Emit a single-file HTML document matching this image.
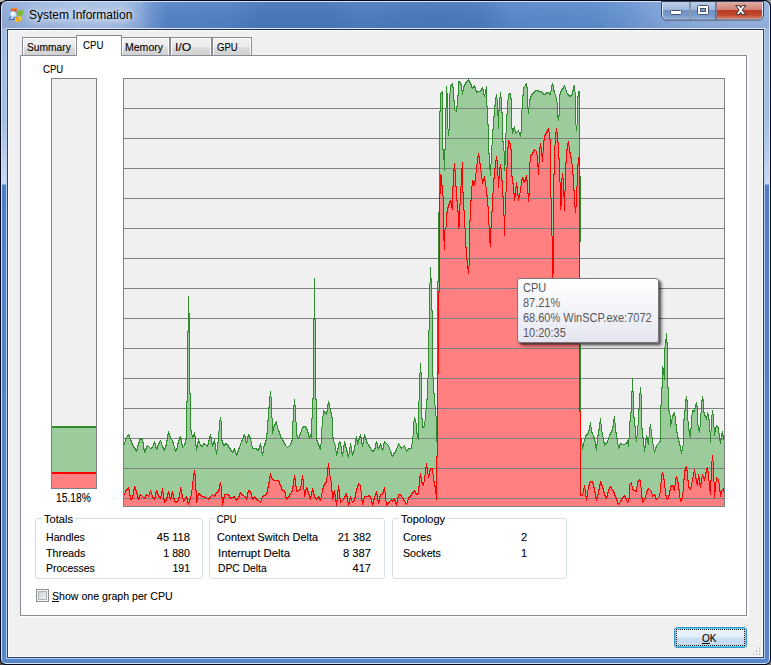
<!DOCTYPE html>
<html>
<head>
<meta charset="utf-8">
<title>System Information</title>
<style>
html,body{margin:0;padding:0;}
body{width:771px;height:665px;overflow:hidden;background:#0b101c;position:relative;font-family:"Liberation Sans",sans-serif;font-size:11px;color:#000;}
div,span{box-sizing:border-box;}
.abs{position:absolute;}
#win{position:absolute;left:0;top:0;width:771px;height:665px;border-radius:7px 7px 6px 6px;background:#05091a;overflow:hidden;}
#glass{position:absolute;left:1px;top:1px;width:769px;height:663px;border-radius:6px 6px 5px 5px;background:#d3e2f8;}
#glass2{position:absolute;left:2px;top:2px;width:767px;height:661px;border-radius:5px 5px 4px 4px;background:linear-gradient(180deg,#9fb9e1 0,#a5bee4 118px,#c9d9f1 182px,#4f80c6 183px,#5384c8 400px,#5787ca 661px);}
#tbar{position:absolute;left:2px;top:2px;width:767px;height:26px;border-radius:5px 5px 0 0;
 background:linear-gradient(90deg,#90aad4 0px,#9ab4dd 30px,#a8c0e4 75px,#a4bde3 120px,#8aa9d9 138px,#6a93cf 150px,#5683c6 165px,#5280c4 228px,#4a77ba 258px,#4a77ba 330px,#4f7dbf 360px,#4c79bc 400px,#4b78bb 440px,#4d7abd 478px,#5a88c9 510px,#5c8aca 590px,#6a95d1 625px,#80a3d7 660px,#90afdc 705px,#95b3de 767px);}
#tbar2{position:absolute;left:2px;top:2px;width:767px;height:26px;border-radius:5px 5px 0 0;
 background:linear-gradient(180deg,rgba(255,255,255,.06) 0,rgba(255,255,255,0) 50%,rgba(0,0,40,.04) 100%);}
#edgeL{position:absolute;left:6px;top:28px;width:759px;height:631px;background:#b4cbee;border-top:1px solid #dfe8f7;}
#edgeD{position:absolute;left:7px;top:29px;width:757px;height:629px;background:#2c4568;border-top:1px solid #1f2f4c;}
#client{position:absolute;left:8px;top:30px;width:755px;height:627px;background:#f0f0f0;border:1px solid #fbfbfb;}
#title{position:absolute;left:29px;top:8px;font-size:12px;line-height:14px;white-space:nowrap;color:#000;
 text-shadow:0 0 6px rgba(255,255,255,.85),0 0 10px rgba(255,255,255,.75),0 0 14px rgba(255,255,255,.5);}
.t{position:absolute;white-space:nowrap;line-height:13px;font-size:11px;}
.r{text-align:right;}
.t,.gbl{margin-top:1px;-webkit-text-stroke:0.1px #000;}
/* tabs */
.tab{position:absolute;top:37px;height:19px;border:1px solid #898c95;border-bottom:none;background:linear-gradient(180deg,#f2f2f2 0,#ebebeb 48%,#dddddd 52%,#cfcfcf 100%);box-shadow:inset 1px 1px 0 #fbfbfb,inset -1px 0 0 #fbfbfb;}
#pane{position:absolute;left:20px;top:55px;width:727px;height:561px;border:1px solid #898c95;background:#fff;}
#seltab{position:absolute;left:76px;top:35px;width:46px;height:21px;border:1px solid #898c95;border-bottom:none;background:#fff;}
.gb{position:absolute;border:1px solid #d5dfe5;border-radius:3px;}
.gbl{position:absolute;background:#fff;padding:0 2px;white-space:nowrap;line-height:13px;}
#tip{position:absolute;left:517px;top:278px;width:142px;height:65px;border:1px solid #767676;border-radius:3px;background:linear-gradient(180deg,#ffffff 0,#f4f5fa 45%,#e4e5f0 100%);box-shadow:2px 2px 2px rgba(0,0,0,.5),4px 4px 3px rgba(0,0,0,.22);color:#575757;font-size:12px;}
#tip div{position:absolute;left:5px;white-space:nowrap;line-height:14px;}
#ok{position:absolute;left:674px;top:627px;width:73px;height:21px;border:1px solid #3a94cf;border-radius:3px;background:linear-gradient(180deg,#eef5fc 0,#e3eefa 48%,#cde0f3 52%,#bed7ee 100%);box-shadow:inset 0 0 0 1px #48d4f8;}
#okf{position:absolute;left:1px;top:1px;right:1px;bottom:1px;border:1px dotted #2a1208;}
#tSummary{transform:scaleX(0.930);transform-origin:0 0;}
#tCPUtab{transform:scaleX(0.879);transform-origin:0 0;}
#tMemory{transform:scaleX(0.957);transform-origin:0 0;}
#tIO{transform:scaleX(1.102);transform-origin:0 0;}
#tGPU{transform:scaleX(0.870);transform-origin:0 0;}
#tCPUlbl{transform:scaleX(0.866);transform-origin:0 0;}
#tPct{transform:scaleX(0.86);transform-origin:0 0;}
#gTotals{transform:scaleX(1.007);transform-origin:0 0;}
#gCPU{transform:scaleX(0.849);transform-origin:0 0;}
#gTopo{transform:scaleX(1.002);transform-origin:0 0;}
#tHandles{transform:scaleX(0.963);transform-origin:0 0;}
#tThreads{transform:scaleX(0.978);transform-origin:0 0;}
#tProcesses{transform:scaleX(0.951);transform-origin:0 0;}
#tCtx{transform:scaleX(0.989);transform-origin:0 0;}
#tInt{transform:scaleX(1.033);transform-origin:0 0;}
#tDpc{transform:scaleX(0.937);transform-origin:0 0;}
#tCores{transform:scaleX(0.976);transform-origin:0 0;}
#tSockets{transform:scaleX(0.969);transform-origin:0 0;}
#tShow{transform:scaleX(0.962);transform-origin:0 0;}
#tOK{transform:scaleX(0.912);transform-origin:0 0;}
#vHandles{transform:scaleX(1.015);transform-origin:100% 0;}
#vThreads{transform:scaleX(0.971);transform-origin:100% 0;}
#vProcesses{transform:scaleX(0.957);transform-origin:100% 0;}
#vCtx{transform:scaleX(0.988);transform-origin:100% 0;}
#vInt{transform:scaleX(1.015);transform-origin:100% 0;}
#vDpc{transform:scaleX(1.005);transform-origin:100% 0;}
#tip div{transform:scaleX(0.915);transform-origin:0 0;}
</style>
</head>
<body>
<div class="abs" style="left:0;top:0;width:5px;height:2px;background:#b4b4b4"></div><div class="abs" style="left:766px;top:0;width:5px;height:4px;background:linear-gradient(225deg,#a8a8a8 0,#8a8a8a 40%,#1a1a1a 100%)"></div><div class="abs" style="left:0;top:661px;width:4px;height:4px;background:#4a4a4a"></div><div class="abs" style="left:767px;top:661px;width:4px;height:4px;background:#6e6e6e"></div>
<div id="win">
<div id="glass"></div><div id="glass2"></div><div id="tbar"></div><div id="tbar2"></div>
<div id="edgeL"></div><div id="edgeD"></div>
<div id="client"></div>
<!-- caption buttons -->
<svg class="abs" style="left:655px;top:0" width="116" height="24" viewBox="655 0 116 24">
<defs>
<linearGradient id="gb" x1="0" y1="0" x2="0" y2="1"><stop offset="0" stop-color="#bccde7"/><stop offset=".45" stop-color="#9fb7dc"/><stop offset=".5" stop-color="#7193c7"/><stop offset=".8" stop-color="#7a9bcd"/><stop offset="1" stop-color="#93b0da"/></linearGradient>
<linearGradient id="gc" x1="0" y1="0" x2="0" y2="1"><stop offset="0" stop-color="#e2ada6"/><stop offset=".45" stop-color="#d08376"/><stop offset=".5" stop-color="#bb3a23"/><stop offset=".78" stop-color="#c14b33"/><stop offset="1" stop-color="#d68e79"/></linearGradient>
</defs>
<path d="M661.5,1.5 H763.5 V15 a5,5 0 0 1 -5,5 H666.5 a5,5 0 0 1 -5,-5 Z" fill="#dbe6f6" stroke="#33445f" stroke-width="1"/>
<path d="M663,2 H689 V19 H667 a4,4 0 0 1 -4,-4 Z" fill="url(#gb)"/>
<rect x="691" y="2" width="25" height="17" fill="url(#gb)"/>
<path d="M717,2 H762 V15 a4,4 0 0 1 -4,4 H717 Z" fill="url(#gc)"/>
<rect x="689.5" y="1.5" width="1" height="18" fill="#3a4a66"/>
<rect x="715.5" y="1.5" width="1" height="18" fill="#4a2a2c"/>
<!-- min -->
<rect x="670.5" y="10.5" width="11" height="4" rx="1" fill="#fff" stroke="#46536a" stroke-width="1"/>
<!-- max -->
<rect x="697.5" y="5.5" width="11" height="9" rx="1" fill="#fff" stroke="#46536a" stroke-width="1"/>
<rect x="700.5" y="8.5" width="5" height="3" fill="#7d9fd3" stroke="#46536a" stroke-width="1"/>
<!-- close X -->
<path d="M735.7,5.5 h3.5 l1.5,1.9 l1.5,-1.9 h3.5 l-3.4,4.5 l3.4,4.5 h-3.5 l-1.5,-1.9 l-1.5,1.9 h-3.5 l3.4,-4.5 Z" fill="#fff" stroke="#4c3a3c" stroke-width="1.1" stroke-linejoin="round"/>
</svg>
<!-- app icon -->
<svg class="abs" style="left:7px;top:6px" width="18" height="18" viewBox="7 6 18 18">
<path d="M11.2,9.4 C12.6,8.1 15,7.7 17,8.5 L16.4,12.6 L11,12.4 Z" fill="#ea4d18"/>
<path d="M12,8.8 C13.4,8 15.4,7.9 16.9,8.5 L16.7,9.8 C15,9.2 13.4,9.4 12,10 Z" fill="#f58a2c"/>
<path d="M17.5,10.2 C19,11.1 21.6,11 23.7,9.9 L22.5,15.3 C20.6,16.3 18.6,16.2 16.9,15.4 Z" fill="#7db82b"/>
<path d="M15.3,16.4 C17,17.2 19.6,17.1 21.7,16 L20.5,21.5 C18.4,22.4 16.3,22.2 14.6,21.2 Z" fill="#f9c81a"/>
<path d="M15.6,16.6 L19.6,21.4" stroke="#e8902a" stroke-width="1.6"/>
<path d="M9.6,16.8 C11.2,16 13.4,16.2 15,17 L14.3,20.4 C12.6,19.6 10.6,19.6 8.8,20.4 Z" fill="#3a63c8"/>
<path d="M10.4,17.6 C11.4,17.2 12.6,17.2 13.6,17.6 L13.3,19 C12.2,18.6 11.2,18.6 10,19 Z" fill="#e8f1fb"/>
<circle cx="13.2" cy="14.1" r="2.9" fill="#dcf3fc" stroke="#a9d2ee" stroke-width=".7"/>
<circle cx="12.6" cy="13.4" r="1.3" fill="#ffffff" opacity=".8"/>
</svg>
<div id="title" >System Information</div>

<!-- tabs -->
<div class="tab" style="left:22px;width:55px;"></div>
<div class="tab" style="left:121px;width:49px;"></div>
<div class="tab" style="left:170px;width:42px;"></div>
<div class="tab" style="left:212px;width:40px;"></div>
<div class="abs" style="left:20px;top:55px;width:729px;height:563px;background:#fbfbfb;"></div>
<div id="pane"></div>
<div id="seltab"></div>
<div class="t" id="tSummary" style="left:27px;top:40px;">Summary</div>
<div class="t" id="tCPUtab" style="left:83px;top:38px;">CPU</div>
<div class="t" id="tMemory" style="left:125px;top:40px;">Memory</div>
<div class="t" id="tIO" style="left:175px;top:40px;">I/O</div>
<div class="t" id="tGPU" style="left:217px;top:40px;">GPU</div>

<div class="t" id="tCPUlbl" style="left:43px;top:62px;">CPU</div>
<svg id="graph" width="771" height="665" viewBox="0 0 771 665" style="position:absolute;left:0;top:0" shape-rendering="crispEdges">
<rect x="123" y="78" width="602" height="429" fill="#808080"/>
<rect x="124" y="79" width="600" height="427" fill="#f0f0f0"/>
<polygon points="124,506 124,444 124.5,444 125.5,439 128.5,434 130.5,439 132.5,444 136.5,451 138.5,443 140.5,438 142.5,439 144.5,452 146.5,447 147.5,445 150.5,448 152.5,447 154.5,441 156.5,449 158.5,444 160.5,440 162.5,446 164.5,450 166.5,443 168.5,431 170.5,438 172.5,440 175.5,451 176.5,450 178.5,441 180.5,436 182.5,447 184.5,445 186.5,437 186.5,401 187.5,401 187.5,331 188.5,331 188.5,296 189.5,330 189.5,393 190.5,393 190.5,429 191.5,431 192.5,438 194.5,432 195.5,440 196.5,450 198.5,439 200.5,445 202.5,446 203.5,443 205.5,444 207.5,446 210.5,434 212.5,446 214.5,439 216.5,454 218.5,438 219.5,423 220.5,417 221.5,424 221.5,426 221.5,438 223.5,445 226.5,443 228.5,446 232.5,452 234.5,448 236.5,455 239.5,447 241.5,441 244.5,434 246.5,443 248.5,434 250.5,438 252.5,448 255.5,448 258.5,450 260.5,443 262.5,455 264.5,443 265.5,444 267.5,429 267.5,427 269.5,400 270.5,391 271.5,402 272.5,433 273.5,427 276.5,421 277.5,428 278.5,429 280.5,436 282.5,439 285.5,445 287.5,447 290.5,444 292.5,439 292.5,432 293.5,410 294.5,399 295.5,411 296.5,432 296.5,434 298.5,438 300.5,433 302.5,427 304.5,426 305.5,426 307.5,430 309.5,438 310.5,434 311.5,438 312.5,398 313.5,398 313.5,318 314.5,318 314.5,278 314.5,319 315.5,319 315.5,399 316.5,399 316.5,439 318.5,444 320.5,449 321.5,438 321.5,432 323.5,410 326.5,414 328.5,401 330.5,410 332.5,419 332.5,434 333.5,440 335.5,446 336.5,455 339.5,441 340.5,443 342.5,456 344.5,441 346.5,449 348.5,457 350.5,443 352.5,455 354.5,448 356.5,436 357.5,444 360.5,434 362.5,446 364.5,434 366.5,441 369.5,446 372.5,451 374.5,450 376.5,441 378.5,449 380.5,443 382.5,450 384.5,441 388.5,445 390.5,451 392.5,456 396.5,449 398.5,443 401.5,448 404.5,445 406.5,451 408.5,448 411.5,448 412.5,439 413.5,432 413.5,424 414.5,417 415.5,421 416.5,424 416.5,431 418.5,439 418.5,419 419.5,382 420.5,363 421.5,380 421.5,409 422.5,427 424.5,426 425.5,415 426.5,404 427.5,394 428.5,361 429.5,298 430.5,267 431.5,289 432.5,331 432.5,367 433.5,386 434.5,400 435.5,409 436.5,422 436.5,441 437.5,441 437.5,281 438.5,281 438.5,212 439.5,212 439.5,128 440.5,94 442.5,91 442.5,110 442.5,149 443.5,149 444.5,170 444.5,149 445.5,149 445.5,108 446.5,107 446.5,86 447.5,99 447.5,122 448.5,135 449.5,123 449.5,99 450.5,86 452.5,83 453.5,91 454.5,109 456.5,111 457.5,101 458.5,89 458.5,81 460.5,82 461.5,86 462.5,94 463.5,87 465.5,83 468.5,79 470.5,83 472.5,88 474.5,85 476.5,92 478.5,91 480.5,91 482.5,87 484.5,96 485.5,91 486.5,86 486.5,105 487.5,107 488.5,141 488.5,143 489.5,163 490.5,175 491.5,152 492.5,137 493.5,121 495.5,100 496.5,94 497.5,103 498.5,128 498.5,119 499.5,101 500.5,92 501.5,102 502.5,122 502.5,140 503.5,142 504.5,159 504.5,170 505.5,159 505.5,142 506.5,123 507.5,105 508.5,94 510.5,93 511.5,103 511.5,123 512.5,133 514.5,126 515.5,133 518.5,130 520.5,136 521.5,128 521.5,116 522.5,103 523.5,87 525.5,85 526.5,83 527.5,91 527.5,104 528.5,113 529.5,100 531.5,95 533.5,92 536.5,90 540.5,91 544.5,94 547.5,92 550.5,94 551.5,87 552.5,83 554.5,92 556.5,98 557.5,105 557.5,114 558.5,120 559.5,110 559.5,95 561.5,90 563.5,87 564.5,85 566.5,91 567.5,94 570.5,96 572.5,93 573.5,87 574.5,85 575.5,98 575.5,119 576.5,130 577.5,119 577.5,101 578.5,91 579.5,91 579.5,411 580.5,411 580.5,438 581.5,438 582.5,449 584.5,439 586.5,434 588.5,433 590.5,422 591.5,431 594.5,438 596.5,450 597.5,438 599.5,426 600.5,418 601.5,429 603.5,439 604.5,445 607.5,441 609.5,435 612.5,429 614.5,416 615.5,429 617.5,441 618.5,448 620.5,443 623.5,444 626.5,443 627.5,440 628.5,446 629.5,429 630.5,413 631.5,411 631.5,391 632.5,391 632.5,378 632.5,391 633.5,391 633.5,416 634.5,418 635.5,434 636.5,441 638.5,419 639.5,399 640.5,387 641.5,400 641.5,424 643.5,441 644.5,451 646.5,435 648.5,444 649.5,429 650.5,424 651.5,433 653.5,447 654.5,452 656.5,445 659.5,442 660.5,440 660.5,423 661.5,387 662.5,387 662.5,366 663.5,370 664.5,379 664.5,348 665.5,345 666.5,333 667.5,351 667.5,387 668.5,387 668.5,410 669.5,410 670.5,419 670.5,426 672.5,416 674.5,412 675.5,419 676.5,429 677.5,435 678.5,439 680.5,447 681.5,453 683.5,443 683.5,423 685.5,406 685.5,401 686.5,396 687.5,404 687.5,413 688.5,428 690.5,437 691.5,419 692.5,410 694.5,411 695.5,405 696.5,402 697.5,410 697.5,423 699.5,432 700.5,421 701.5,404 702.5,396 703.5,402 703.5,411 705.5,416 706.5,419 707.5,412 709.5,421 710.5,442 711.5,419 712.5,410 713.5,418 714.5,435 715.5,428 716.5,425 718.5,428 719.5,437 720.5,443 721.5,435 722.5,431 723.5,439 724,439 724,506" fill="#9ccb9c"/>
<polygon points="124,506 124,494 124.5,494 125.5,491 128.5,487 129.5,491 130.5,499 132.5,498 134.5,486 136.5,491 138.5,499 140.5,494 142.5,496 144.5,498 146.5,494 148.5,496 150.5,490 152.5,496 154.5,499 156.5,490 158.5,495 160.5,498 162.5,488 163.5,496 164.5,502 166.5,499 168.5,491 170.5,499 172.5,491 173.5,497 175.5,502 177.5,501 179.5,496 180.5,487 182.5,496 183.5,501 186.5,496 188.5,504 190.5,497 191.5,494 193.5,476 194.5,470 195.5,478 196.5,502 198.5,493 202.5,496 206.5,497 208.5,499 210.5,496 212.5,494 214.5,496 216.5,492 218.5,491 220.5,482 221.5,489 222.5,505 224.5,494 228.5,494 230.5,498 234.5,496 236.5,500 238.5,497 240.5,492 242.5,495 245.5,496 246.5,499 248.5,490 250.5,491 252.5,499 254.5,496 256.5,499 258.5,500 260.5,502 262.5,496 266.5,494 268.5,485 270.5,473 271.5,478 274.5,480 278.5,480 280.5,485 282.5,490 284.5,490 286.5,499 289.5,495 292.5,490 294.5,475 295.5,481 296.5,491 300.5,489 302.5,475 303.5,483 304.5,496 306.5,487 308.5,492 310.5,499 312.5,488 314.5,496 316.5,499 318.5,496 320.5,500 322.5,490 324.5,483 326.5,482 327.5,471 328.5,463 329.5,473 331.5,483 332.5,499 334.5,490 336.5,505 338.5,485 340.5,502 343.5,499 346.5,493 348.5,505 350.5,496 352.5,502 354.5,499 356.5,490 358.5,483 360.5,485 361.5,496 362.5,504 364.5,496 367.5,496 369.5,495 371.5,499 372.5,505 374.5,497 376.5,491 378.5,503 380.5,494 382.5,494 384.5,487 385.5,496 386.5,505 389.5,501 391.5,499 392.5,501 394.5,498 396.5,505 398.5,494 400.5,494 403.5,499 406.5,504 408.5,498 411.5,494 414.5,490 416.5,494 418.5,493 419.5,479 420.5,473 421.5,481 423.5,485 425.5,471 426.5,463 428.5,477 430.5,468 432.5,468 433.5,479 435.5,488 436.5,499 436.5,456 437.5,456 437.5,373 438.5,373 438.5,291 439.5,291 439.5,212 440.5,174 441.5,175 442.5,195 443.5,196 443.5,231 444.5,249 444.5,231 446.5,225 446.5,214 448.5,205 450.5,200 452.5,209 452.5,197 453.5,175 454.5,163 455.5,177 456.5,195 458.5,216 458.5,228 459.5,225 459.5,211 460.5,197 461.5,174 462.5,162 462.5,179 463.5,205 464.5,215 465.5,240 466.5,254 467.5,264 468.5,273 469.5,258 469.5,231 470.5,209 471.5,191 472.5,180 474.5,185 475.5,177 477.5,159 478.5,153 479.5,159 480.5,167 481.5,174 482.5,183 484.5,176 485.5,184 486.5,189 487.5,201 488.5,211 489.5,238 490.5,246 490.5,236 491.5,220 492.5,202 493.5,183 495.5,163 496.5,156 497.5,164 498.5,187 499.5,170 500.5,164 501.5,173 502.5,187 503.5,205 504.5,226 504.5,235 504.5,225 505.5,204 506.5,179 507.5,154 508.5,140 510.5,144 511.5,154 511.5,173 513.5,186 514.5,200 515.5,192 516.5,182 517.5,190 518.5,200 520.5,190 521.5,181 522.5,177 524.5,182 526.5,175 527.5,185 528.5,201 529.5,189 529.5,167 530.5,156 532.5,153 534.5,149 536.5,151 537.5,158 538.5,174 539.5,151 540.5,143 541.5,150 542.5,161 543.5,144 544.5,136 546.5,132 548.5,128 549.5,135 550.5,143 550.5,185 551.5,210 552.5,261 552.5,285 553.5,261 553.5,195 554.5,153 555.5,136 556.5,128 557.5,136 558.5,148 559.5,168 560.5,195 560.5,209 561.5,201 561.5,182 562.5,173 563.5,183 564.5,210 565.5,171 566.5,153 567.5,145 568.5,141 569.5,150 571.5,159 572.5,168 573.5,180 574.5,200 575.5,212 576.5,200 577.5,171 578.5,157 579.5,157 579.5,411 580.5,411 580.5,495 582.5,495 584.5,485 585.5,492 586.5,500 588.5,486 590.5,481 592.5,481 594.5,489 596.5,500 598.5,492 600.5,481 602.5,486 604.5,494 606.5,498 608.5,490 610.5,486 613.5,491 615.5,496 618.5,504 621.5,499 624.5,495 626.5,499 627.5,502 629.5,497 629.5,484 631.5,482 632.5,489 634.5,490 636.5,491 637.5,482 639.5,479 640.5,481 641.5,492 642.5,502 645.5,497 646.5,492 648.5,488 651.5,491 652.5,496 654.5,494 656.5,499 659.5,496 660.5,489 661.5,476 662.5,472 664.5,481 665.5,494 667.5,499 669.5,494 670.5,486 672.5,485 674.5,490 675.5,479 676.5,476 678.5,484 679.5,494 680.5,501 682.5,497 683.5,486 684.5,472 685.5,468 686.5,466 687.5,474 688.5,486 690.5,489 692.5,479 694.5,469 695.5,476 697.5,485 698.5,474 700.5,487 701.5,479 702.5,474 704.5,480 706.5,469 707.5,467 708.5,474 709.5,487 710.5,494 711.5,466 712.5,455 713.5,466 714.5,497 715.5,486 716.5,477 718.5,479 719.5,486 720.5,496 721.5,490 723.5,488 723.5,491 724,491 724,506" fill="#ff8080"/>
<rect x="124" y="108" width="600" height="1" fill="#808080"/><rect x="124" y="138" width="600" height="1" fill="#808080"/><rect x="124" y="168" width="600" height="1" fill="#808080"/><rect x="124" y="198" width="600" height="1" fill="#808080"/><rect x="124" y="228" width="600" height="1" fill="#808080"/><rect x="124" y="258" width="600" height="1" fill="#808080"/><rect x="124" y="288" width="600" height="1" fill="#808080"/><rect x="124" y="318" width="600" height="1" fill="#808080"/><rect x="124" y="348" width="600" height="1" fill="#808080"/><rect x="124" y="378" width="600" height="1" fill="#808080"/><rect x="124" y="408" width="600" height="1" fill="#808080"/><rect x="124" y="438" width="600" height="1" fill="#808080"/><rect x="124" y="468" width="600" height="1" fill="#808080"/><rect x="124" y="498" width="600" height="1" fill="#808080"/>
<path d="M124.5,442V445M125.5,438V442M126.5,437V439M127.5,435V437M128.5,434V436M129.5,435V439M130.5,438V441M131.5,440V444M132.5,443V446M133.5,445V448M134.5,447V449M135.5,448V451M136.5,449V452M137.5,445V450M138.5,442V446M139.5,439V443M140.5,438V440M141.5,438V440M142.5,439V443M143.5,442V450M144.5,449V453M145.5,448V452M146.5,446V449M147.5,445V447M148.5,446V447M149.5,447V448M150.5,448V449M151.5,447V449M152.5,446V448M153.5,443V446M154.5,441V444M155.5,443V448M156.5,447V450M157.5,445V449M158.5,443V446M159.5,441V444M160.5,440V442M161.5,442V445M162.5,445V448M163.5,447V450M164.5,448V451M165.5,445V449M166.5,440V446M167.5,434V441M168.5,431V435M169.5,433V437M170.5,436V439M171.5,439V440M172.5,440V443M173.5,442V446M174.5,446V450M175.5,449V452M176.5,448V451M177.5,443V449M178.5,440V444M179.5,437V441M180.5,436V440M181.5,439V445M182.5,444V448M183.5,446V447M184.5,443V446M185.5,439V444M186.5,401V440M187.5,331V402M188.5,296V332M189.5,313V394M190.5,393V431M191.5,430V435M192.5,435V439M193.5,434V437M194.5,432V437M195.5,436V446M196.5,445V451M197.5,442V448M198.5,439V443M199.5,441V444M200.5,444V446M201.5,445V447M202.5,445V447M203.5,443V445M204.5,443V445M205.5,444V445M206.5,445V446M207.5,444V447M208.5,440V445M209.5,436V441M210.5,434V438M211.5,437V444M212.5,443V447M213.5,441V445M214.5,439V444M215.5,443V451M216.5,450V455M217.5,442V451M218.5,431V443M219.5,420V431M220.5,417V421M221.5,421V441M222.5,440V444M223.5,443V446M224.5,444V446M225.5,443V445M226.5,443V445M227.5,444V446M228.5,445V448M229.5,447V449M230.5,448V451M231.5,450V452M232.5,451V453M233.5,449V452M234.5,448V451M235.5,450V454M236.5,453V456M237.5,451V455M238.5,448V452M239.5,446V449M240.5,443V446M241.5,440V443M242.5,438V441M243.5,435V438M244.5,434V437M245.5,436V442M246.5,441V444M247.5,436V442M248.5,434V437M249.5,435V438M250.5,437V441M251.5,441V446M252.5,446V449M253.5,448V449M254.5,448V449M255.5,448V449M256.5,448V450M257.5,449V451M258.5,448V451M259.5,445V449M260.5,443V447M261.5,446V453M262.5,452V456M263.5,446V453M264.5,443V447M265.5,440V445M266.5,433V441M267.5,420V434M268.5,407V421M269.5,396V408M270.5,391V397M271.5,397V418M272.5,418V434M273.5,426V431M274.5,424V427M275.5,422V425M276.5,421V425M277.5,425V429M278.5,429V432M279.5,431V435M280.5,434V438M281.5,437V439M282.5,438V441M283.5,440V443M284.5,442V445M285.5,444V446M286.5,446V447M287.5,447V448M288.5,446V447M289.5,445V446M290.5,443V445M291.5,440V444M292.5,421V441M293.5,405V422M294.5,399V406M295.5,405V422M296.5,422V436M297.5,435V438M298.5,437V439M299.5,434V438M300.5,432V435M301.5,429V432M302.5,427V429M303.5,426V428M304.5,426V427M305.5,426V428M306.5,427V430M307.5,429V433M308.5,432V437M309.5,436V439M310.5,434V437M311.5,418V439M312.5,398V419M313.5,318V399M314.5,278V320M315.5,319V400M316.5,399V441M317.5,440V444M318.5,443V446M319.5,445V449M320.5,444V450M321.5,427V444M322.5,416V427M323.5,410V416M324.5,411V413M325.5,412V414M326.5,411V415M327.5,404V412M328.5,401V405M329.5,403V409M330.5,408V413M331.5,412V418M332.5,417V438M333.5,437V442M334.5,442V445M335.5,445V451M336.5,451V456M337.5,448V454M338.5,443V449M339.5,441V444M340.5,442V447M341.5,446V454M342.5,452V457M343.5,445V453M344.5,441V446M345.5,443V448M346.5,447V452M347.5,451V456M348.5,454V458M349.5,447V454M350.5,443V447M351.5,446V453M352.5,452V456M353.5,450V454M354.5,445V451M355.5,439V446M356.5,436V441M357.5,440V445M358.5,439V443M359.5,436V440M360.5,434V438M361.5,437V444M362.5,443V447M363.5,437V444M364.5,434V438M365.5,436V440M366.5,439V443M367.5,442V444M368.5,444V446M369.5,445V448M370.5,447V449M371.5,449V451M372.5,450V452M373.5,450V452M374.5,448V451M375.5,443V449M376.5,441V444M377.5,443V448M378.5,447V450M379.5,445V448M380.5,443V446M381.5,445V449M382.5,448V451M383.5,443V449M384.5,441V444M385.5,442V443M386.5,443V444M387.5,444V445M388.5,445V447M389.5,447V450M390.5,450V453M391.5,452V456M392.5,455V457M393.5,453V456M394.5,452V454M395.5,450V453M396.5,448V451M397.5,445V448M398.5,443V445M399.5,444V446M400.5,446V448M401.5,447V449M402.5,447V448M403.5,446V447M404.5,445V447M405.5,447V450M406.5,450V452M407.5,449V451M408.5,448V450M409.5,448V449M410.5,448V449M411.5,444V449M412.5,436V444M413.5,421V436M414.5,417V421M415.5,419V423M416.5,423V434M417.5,433V438M418.5,401V440M419.5,373V401M420.5,363V373M421.5,372V419M422.5,418V428M423.5,426V428M424.5,421V427M425.5,410V421M426.5,399V410M427.5,378V400M428.5,330V378M429.5,283V330M430.5,267V283M431.5,278V311M432.5,310V377M433.5,377V394M434.5,393V405M435.5,405V416M436.5,416V442M437.5,281V442M438.5,212V282M439.5,111V213M440.5,93V112M441.5,92V94M442.5,91V150M443.5,149V160M444.5,149V171M445.5,108V150M446.5,86V108M447.5,93V129M448.5,129V136M449.5,93V130M450.5,85V93M451.5,84V86M452.5,83V88M453.5,87V101M454.5,100V110M455.5,110V111M456.5,106V112M457.5,95V107M458.5,81V96M459.5,81V83M460.5,82V85M461.5,84V91M462.5,90V95M463.5,86V91M464.5,84V87M465.5,82V85M466.5,81V83M467.5,80V82M468.5,79V81M469.5,80V83M470.5,82V85M471.5,84V88M472.5,87V89M473.5,86V88M474.5,85V88M475.5,87V91M476.5,90V93M477.5,91V93M478.5,91V92M479.5,91V92M480.5,90V92M481.5,88V91M482.5,87V90M483.5,89V95M484.5,94V97M485.5,89V94M486.5,86V107M487.5,106V125M488.5,124V154M489.5,153V170M490.5,164V176M491.5,145V164M492.5,129V145M493.5,116V130M494.5,105V117M495.5,97V106M496.5,94V99M497.5,99V116M498.5,110V129M499.5,97V111M500.5,92V98M501.5,97V113M502.5,112V142M503.5,141V151M504.5,151V171M505.5,133V165M506.5,114V133M507.5,100V115M508.5,94V100M509.5,93V95M510.5,93V99M511.5,98V129M512.5,128V134M513.5,128V132M514.5,126V130M515.5,130V134M516.5,132V133M517.5,131V132M518.5,130V132M519.5,132V135M520.5,132V137M521.5,110V133M522.5,95V110M523.5,87V96M524.5,86V87M525.5,84V86M526.5,83V88M527.5,87V109M528.5,107V114M529.5,99V107M530.5,96V100M531.5,94V97M532.5,93V95M533.5,92V94M534.5,91V93M535.5,90V92M536.5,90V91M537.5,90V91M538.5,90V92M539.5,91V92M540.5,91V92M541.5,91V93M542.5,92V94M543.5,93V95M544.5,94V95M545.5,93V95M546.5,92V94M547.5,92V93M548.5,92V94M549.5,93V95M550.5,91V95M551.5,85V91M552.5,83V86M553.5,85V91M554.5,90V94M555.5,94V97M556.5,97V102M557.5,102V118M558.5,115V121M559.5,94V116M560.5,91V95M561.5,89V92M562.5,88V90M563.5,86V89M564.5,85V87M565.5,87V90M566.5,90V93M567.5,93V95M568.5,94V96M569.5,95V97M570.5,95V97M571.5,94V96M572.5,90V95M573.5,86V91M574.5,85V92M575.5,92V125M576.5,125V131M577.5,96V125M578.5,91V97M579.5,91V412M580.5,411V439M581.5,438V444M582.5,444V450M583.5,442V447M584.5,438V442M585.5,435V439M586.5,434V436M587.5,433V435M588.5,430V434M589.5,425V431M590.5,422V427M591.5,427V433M592.5,432V435M593.5,435V438M594.5,437V442M595.5,441V448M596.5,444V451M597.5,435V445M598.5,429V436M599.5,422V430M600.5,418V424M601.5,424V432M602.5,432V437M603.5,437V443M604.5,442V446M605.5,443V445M606.5,442V444M607.5,440V443M608.5,437V440M609.5,434V437M610.5,432V435M611.5,430V433M612.5,426V431M613.5,419V427M614.5,416V423M615.5,423V433M616.5,432V439M617.5,438V445M618.5,445V449M619.5,444V448M620.5,443V445M621.5,443V444M622.5,444V445M623.5,444V445M624.5,444V445M625.5,443V444M626.5,442V444M627.5,440V444M628.5,438V447M629.5,421V438M630.5,412V422M631.5,391V413M632.5,378V392M633.5,391V418M634.5,417V427M635.5,426V438M636.5,436V442M637.5,425V436M638.5,409V425M639.5,393V410M640.5,387V394M641.5,394V429M642.5,428V438M643.5,437V447M644.5,446V452M645.5,439V448M646.5,435V440M647.5,437V443M648.5,437V445M649.5,427V437M650.5,424V429M651.5,429V437M652.5,437V444M653.5,444V450M654.5,450V453M655.5,447V451M656.5,445V448M657.5,444V445M658.5,443V444M659.5,441V443M660.5,405V442M661.5,387V406M662.5,366V388M663.5,368V375M664.5,347V380M665.5,339V347M666.5,333V343M667.5,342V388M668.5,387V411M669.5,410V415M670.5,415V427M671.5,419V424M672.5,415V419M673.5,413V416M674.5,412V416M675.5,416V425M676.5,424V433M677.5,432V438M678.5,437V442M679.5,441V446M680.5,445V451M681.5,450V454M682.5,446V451M683.5,419V446M684.5,410V420M685.5,399V411M686.5,396V401M687.5,400V421M688.5,421V431M689.5,430V436M690.5,428V438M691.5,415V429M692.5,410V415M693.5,410V412M694.5,408V412M695.5,404V409M696.5,402V407M697.5,406V426M698.5,425V431M699.5,427V433M700.5,413V427M701.5,400V413M702.5,396V401M703.5,399V413M704.5,412V416M705.5,415V418M706.5,416V420M707.5,412V416M708.5,414V420M709.5,419V432M710.5,431V443M711.5,415V431M712.5,410V415M713.5,414V427M714.5,427V436M715.5,427V432M716.5,425V427M717.5,426V428M718.5,427V433M719.5,433V441M720.5,439V444M721.5,433V440M722.5,431V436M723.5,435V440" fill="none" stroke="#2f8c2f" stroke-width="1"/>
<path d="M124.5,493V495M125.5,490V493M126.5,489V491M127.5,488V490M128.5,487V490M129.5,489V496M130.5,495V500M131.5,498V500M132.5,495V499M133.5,489V496M134.5,486V490M135.5,487V491M136.5,490V494M137.5,493V498M138.5,497V500M139.5,495V499M140.5,494V496M141.5,495V496M142.5,496V497M143.5,497V498M144.5,497V499M145.5,495V498M146.5,494V496M147.5,495V496M148.5,495V497M149.5,492V495M150.5,490V492M151.5,492V495M152.5,495V498M153.5,497V499M154.5,497V500M155.5,492V498M156.5,490V493M157.5,491V495M158.5,494V497M159.5,496V498M160.5,496V499M161.5,491V496M162.5,488V493M163.5,492V500M164.5,499V503M165.5,500V502M166.5,497V501M167.5,493V498M168.5,491V494M169.5,493V498M170.5,497V500M171.5,493V498M172.5,491V495M173.5,494V499M174.5,498V502M175.5,501V503M176.5,501V503M177.5,500V502M178.5,497V501M179.5,492V498M180.5,487V492M181.5,489V495M182.5,494V499M183.5,499V502M184.5,499V501M185.5,497V499M186.5,496V499M187.5,498V503M188.5,502V505M189.5,499V503M190.5,496V500M191.5,490V496M192.5,481V490M193.5,473V481M194.5,470V475M195.5,474V491M196.5,490V503M197.5,495V501M198.5,493V496M199.5,493V495M200.5,494V496M201.5,495V497M202.5,496V497M203.5,496V497M204.5,496V498M205.5,497V498M206.5,497V498M207.5,498V499M208.5,498V500M209.5,497V499M210.5,496V498M211.5,495V496M212.5,494V495M213.5,495V496M214.5,495V497M215.5,493V496M216.5,492V494M217.5,491V493M218.5,489V492M219.5,484V490M220.5,482V486M221.5,486V498M222.5,497V506M223.5,497V503M224.5,494V498M225.5,494V495M226.5,494V495M227.5,494V495M228.5,494V496M229.5,495V498M230.5,497V499M231.5,497V499M232.5,497V498M233.5,496V498M234.5,496V498M235.5,497V500M236.5,499V501M237.5,498V500M238.5,496V499M239.5,493V497M240.5,492V494M241.5,493V495M242.5,494V496M243.5,495V496M244.5,496V497M245.5,496V498M246.5,497V500M247.5,492V498M248.5,490V493M249.5,490V492M250.5,491V494M251.5,493V498M252.5,497V500M253.5,497V499M254.5,496V498M255.5,497V499M256.5,498V500M257.5,499V501M258.5,500V501M259.5,501V502M260.5,501V503M261.5,498V501M262.5,496V498M263.5,495V497M264.5,495V496M265.5,494V496M266.5,492V495M267.5,487V493M268.5,482V488M269.5,476V483M270.5,473V477M271.5,476V479M272.5,478V480M273.5,479V481M274.5,480V481M275.5,480V481M276.5,480V481M277.5,480V481M278.5,480V482M279.5,481V485M280.5,484V487M281.5,486V490M282.5,489V491M283.5,490V491M284.5,490V493M285.5,492V498M286.5,497V500M287.5,497V499M288.5,496V498M289.5,494V497M290.5,493V495M291.5,491V493M292.5,486V492M293.5,479V487M294.5,475V480M295.5,478V487M296.5,486V492M297.5,490V492M298.5,490V491M299.5,489V491M300.5,486V490M301.5,479V486M302.5,475V480M303.5,479V490M304.5,490V497M305.5,489V495M306.5,487V490M307.5,488V492M308.5,491V495M309.5,494V498M310.5,496V500M311.5,491V497M312.5,488V492M313.5,490V495M314.5,494V498M315.5,497V499M316.5,498V500M317.5,497V499M318.5,496V498M319.5,497V500M320.5,498V501M321.5,493V498M322.5,488V493M323.5,485V489M324.5,483V486M325.5,482V484M326.5,477V483M327.5,467V477M328.5,463V469M329.5,468V476M330.5,476V481M331.5,481V492M332.5,491V500M333.5,492V498M334.5,490V495M335.5,494V502M336.5,500V506M337.5,490V501M338.5,485V491M339.5,489V499M340.5,498V503M341.5,501V502M342.5,500V501M343.5,498V500M344.5,496V499M345.5,494V497M346.5,493V497M347.5,496V503M348.5,502V506M349.5,498V504M350.5,496V499M351.5,498V501M352.5,501V503M353.5,500V502M354.5,497V501M355.5,492V498M356.5,488V493M357.5,485V489M358.5,483V486M359.5,484V485M360.5,485V491M361.5,491V501M362.5,500V505M363.5,498V503M364.5,496V499M365.5,496V497M366.5,496V497M367.5,496V497M368.5,495V497M369.5,495V497M370.5,496V499M371.5,498V503M372.5,502V506M373.5,499V504M374.5,496V500M375.5,493V496M376.5,491V495M377.5,494V501M378.5,500V504M379.5,496V502M380.5,494V497M381.5,494V495M382.5,492V495M383.5,489V493M384.5,487V492M385.5,492V501M386.5,501V506M387.5,503V505M388.5,502V504M389.5,501V503M390.5,500V501M391.5,499V501M392.5,500V502M393.5,499V501M394.5,498V501M395.5,500V504M396.5,502V506M397.5,497V503M398.5,494V498M399.5,494V495M400.5,494V496M401.5,495V497M402.5,497V499M403.5,498V501M404.5,500V502M405.5,502V504M406.5,503V505M407.5,500V503M408.5,497V500M409.5,496V498M410.5,495V497M411.5,493V496M412.5,492V494M413.5,491V493M414.5,490V492M415.5,491V494M416.5,493V495M417.5,493V495M418.5,486V494M419.5,476V487M420.5,473V478M421.5,477V483M422.5,482V485M423.5,482V486M424.5,475V482M425.5,467V475M426.5,463V468M427.5,467V474M428.5,474V478M429.5,470V476M430.5,468V471M431.5,468V469M432.5,468V474M433.5,474V482M434.5,481V487M435.5,486V494M436.5,456V500M437.5,373V457M438.5,291V374M439.5,193V292M440.5,174V194M441.5,175V186M442.5,185V196M443.5,196V241M444.5,230V250M445.5,227V230M446.5,212V227M447.5,207V213M448.5,204V208M449.5,201V205M450.5,200V203M451.5,202V208M452.5,186V210M453.5,169V187M454.5,163V171M455.5,170V187M456.5,186V201M457.5,200V212M458.5,211V229M459.5,204V227M460.5,186V205M461.5,168V186M462.5,162V193M463.5,192V211M464.5,210V228M465.5,228V248M466.5,247V260M467.5,259V269M468.5,266V274M469.5,220V266M470.5,200V221M471.5,186V201M472.5,180V186M473.5,181V185M474.5,181V186M475.5,173V182M476.5,164V173M477.5,156V164M478.5,153V157M479.5,156V164M480.5,163V171M481.5,171V179M482.5,179V184M483.5,178V182M484.5,176V181M485.5,180V187M486.5,187V196M487.5,195V207M488.5,206V225M489.5,225V243M490.5,228V247M491.5,211V229M492.5,193V212M493.5,178V193M494.5,168V179M495.5,160V169M496.5,156V161M497.5,160V176M498.5,176V188M499.5,167V179M500.5,164V169M501.5,169V181M502.5,180V197M503.5,196V216M504.5,215V236M505.5,192V215M506.5,167V192M507.5,147V167M508.5,140V148M509.5,141V144M510.5,143V150M511.5,149V177M512.5,176V184M513.5,183V194M514.5,193V201M515.5,187V197M516.5,182V188M517.5,186V196M518.5,195V201M519.5,193V198M520.5,186V193M521.5,179V186M522.5,177V180M523.5,178V182M524.5,180V183M525.5,177V181M526.5,175V181M527.5,180V194M528.5,193V202M529.5,162V196M530.5,155V162M531.5,154V156M532.5,152V155M533.5,150V153M534.5,149V151M535.5,150V151M536.5,151V155M537.5,155V167M538.5,163V175M539.5,147V163M540.5,143V148M541.5,147V156M542.5,153V162M543.5,140V153M544.5,135V141M545.5,133V136M546.5,131V134M547.5,129V132M548.5,128V132M549.5,132V140M550.5,139V198M551.5,198V236M552.5,236V286M553.5,174V274M554.5,145V175M555.5,132V145M556.5,128V133M557.5,132V143M558.5,142V159M559.5,158V182M560.5,182V210M561.5,178V206M562.5,173V179M563.5,178V197M564.5,191V211M565.5,162V191M566.5,149V163M567.5,143V150M568.5,141V146M569.5,146V153M570.5,152V158M571.5,157V164M572.5,164V175M573.5,174V191M574.5,190V207M575.5,206V213M576.5,186V207M577.5,164V186M578.5,157V165M579.5,157V412M580.5,411V496M581.5,495V496M582.5,493V496M583.5,488V493M584.5,485V489M585.5,489V497M586.5,496V501M587.5,490V497M588.5,485V490M589.5,482V486M590.5,481V483M591.5,481V482M592.5,481V484M593.5,483V488M594.5,487V493M595.5,492V498M596.5,497V501M597.5,494V499M598.5,489V495M599.5,484V490M600.5,481V485M601.5,482V486M602.5,485V489M603.5,488V493M604.5,492V496M605.5,495V498M606.5,496V499M607.5,492V497M608.5,489V493M609.5,487V490M610.5,486V488M611.5,487V489M612.5,489V491M613.5,490V493M614.5,492V496M615.5,495V498M616.5,497V501M617.5,500V504M618.5,503V505M619.5,502V504M620.5,500V502M621.5,498V501M622.5,497V499M623.5,496V498M624.5,495V497M625.5,496V499M626.5,498V501M627.5,501V503M628.5,498V502M629.5,484V499M630.5,483V484M631.5,482V486M632.5,486V490M633.5,489V491M634.5,490V491M635.5,490V492M636.5,487V492M637.5,481V487M638.5,480V482M639.5,479V481M640.5,480V487M641.5,487V498M642.5,497V503M643.5,500V502M644.5,498V500M645.5,495V499M646.5,491V495M647.5,489V492M648.5,488V490M649.5,489V490M650.5,490V491M651.5,491V494M652.5,494V497M653.5,495V496M654.5,494V496M655.5,495V499M656.5,498V500M657.5,498V499M658.5,497V498M659.5,493V497M660.5,483V493M661.5,474V483M662.5,472V475M663.5,474V480M664.5,479V488M665.5,488V496M666.5,495V499M667.5,498V500M668.5,495V499M669.5,490V496M670.5,486V491M671.5,485V487M672.5,485V487M673.5,486V490M674.5,485V491M675.5,478V485M676.5,476V479M677.5,478V483M678.5,482V490M679.5,489V498M680.5,498V502M681.5,498V501M682.5,492V499M683.5,479V492M684.5,470V480M685.5,467V471M686.5,466V471M687.5,470V481M688.5,480V488M689.5,487V489M690.5,487V490M691.5,482V487M692.5,477V482M693.5,472V477M694.5,469V473M695.5,473V479M696.5,478V484M697.5,480V486M698.5,474V480M699.5,477V485M700.5,483V488M701.5,477V484M702.5,474V477M703.5,476V479M704.5,477V481M705.5,472V478M706.5,468V473M707.5,467V471M708.5,471V481M709.5,481V491M710.5,480V495M711.5,461V481M712.5,455V461M713.5,461V482M714.5,482V498M715.5,482V492M716.5,477V482M717.5,478V479M718.5,479V483M719.5,483V492M720.5,491V497M721.5,490V494M722.5,489V490M723.5,488V492" fill="none" stroke="#ff0000" stroke-width="1"/>
<rect x="580" y="176" width="1" height="66" fill="#2f8c2f"/><rect x="580" y="345" width="1" height="66" fill="#2f8c2f"/>
<rect x="51" y="78" width="46" height="411" fill="#808080"/>
<rect x="52" y="79" width="44" height="409" fill="#f0f0f0"/>
<rect x="52" y="426" width="44" height="62" fill="#9ccb9c"/>
<rect x="52" y="426" width="44" height="2" fill="#2f8c2f"/>
<rect x="52" y="472" width="44" height="16" fill="#ff8080"/>
<rect x="52" y="472" width="44" height="2" fill="#ff0000"/>
</svg>
<div class="t" id="tPct" style="left:56px;top:491px;font-size:12px;">15.18%</div>

<!-- group boxes -->
<div class="gb" style="left:35px;top:518px;width:168px;height:61px;"></div>
<div class="gbl" style="left:42px;top:512px;" id="gTotals">Totals</div>
<div class="gb" style="left:209px;top:518px;width:176px;height:61px;"></div>
<div class="gbl" style="left:215px;top:512px;" id="gCPU">CPU</div>
<div class="gb" style="left:392px;top:518px;width:175px;height:61px;"></div>
<div class="gbl" style="left:399px;top:512px;" id="gTopo">Topology</div>

<div class="t" id="tHandles" style="left:46px;top:530px;">Handles</div>
<div class="t" id="tThreads" style="left:46px;top:546px;">Threads</div>
<div class="t" id="tProcesses" style="left:46px;top:561px;">Processes</div>
<div class="t r" id="vHandles" style="left:130px;width:60px;top:530px;">45 118</div>
<div class="t r" id="vThreads" style="left:130px;width:60px;top:546px;">1 880</div>
<div class="t r" id="vProcesses" style="left:130px;width:60px;top:561px;">191</div>

<div class="t" id="tCtx" style="left:217px;top:530px;">Context Switch Delta</div>
<div class="t" id="tInt" style="left:218px;top:546px;">Interrupt Delta</div>
<div class="t" id="tDpc" style="left:218px;top:561px;">DPC Delta</div>
<div class="t r" id="vCtx" style="left:311px;width:60px;top:530px;">21 382</div>
<div class="t r" id="vInt" style="left:311px;width:60px;top:546px;">8 387</div>
<div class="t r" id="vDpc" style="left:311px;width:60px;top:561px;">417</div>

<div class="t" id="tCores" style="left:403px;top:530px;">Cores</div>
<div class="t" id="tSockets" style="left:403px;top:546px;">Sockets</div>
<div class="t" id="vCores" style="left:521px;top:530px;">2</div>
<div class="t" id="vSockets" style="left:521px;top:546px;">1</div>

<!-- checkbox -->
<div class="abs" style="left:36px;top:589px;width:13px;height:13px;border:1px solid #8e8f8f;background:#f4f4f4;">
 <div class="abs" style="left:1px;top:1px;width:9px;height:9px;border:1px solid #aeb3b9;background:linear-gradient(135deg,#cbcfd5 0,#dfe2e6 45%,#f3f3f3 100%);"></div>
</div>
<div class="t" id="tShow" style="left:52px;top:589px;"><span style="text-decoration:underline">S</span>how one graph per CPU</div>

<!-- tooltip -->
<div id="tip">
 <div style="top:2px;left:5px;">CPU</div>
 <div style="top:17px;">87.21%</div>
 <div style="top:32px;">68.60% WinSCP.exe:7072</div>
 <div style="top:47px;">10:20:35</div>
</div>

<!-- OK button -->
<div id="ok"><div id="okf"></div></div>
<div class="t" id="tOK" style="left:702px;top:631px;"><span style="text-decoration:underline">O</span>K</div>
<!-- size grip -->
<svg class="abs" style="left:750px;top:645px" width="12" height="12" viewBox="750 645 12 12" shape-rendering="crispEdges">
<g fill="#b4b4b4"><rect x="759" y="648" width="1" height="1"/><rect x="756" y="651" width="1" height="1"/><rect x="759" y="651" width="1" height="1"/><rect x="753" y="654" width="1" height="1"/><rect x="756" y="654" width="1" height="1"/><rect x="759" y="654" width="1" height="1"/></g>
<g fill="#c8c8c8"><rect x="759" y="647" width="1" height="1"/><rect x="756" y="650" width="1" height="1"/><rect x="759" y="650" width="1" height="1"/><rect x="753" y="653" width="1" height="1"/><rect x="756" y="653" width="1" height="1"/><rect x="759" y="653" width="1" height="1"/></g>
<g fill="#ffffff"><rect x="758" y="647" width="1" height="1"/><rect x="755" y="650" width="1" height="1"/><rect x="758" y="650" width="1" height="1"/><rect x="752" y="653" width="1" height="1"/><rect x="755" y="653" width="1" height="1"/><rect x="758" y="653" width="1" height="1"/></g>
</svg>
</div>
</body>
</html>
